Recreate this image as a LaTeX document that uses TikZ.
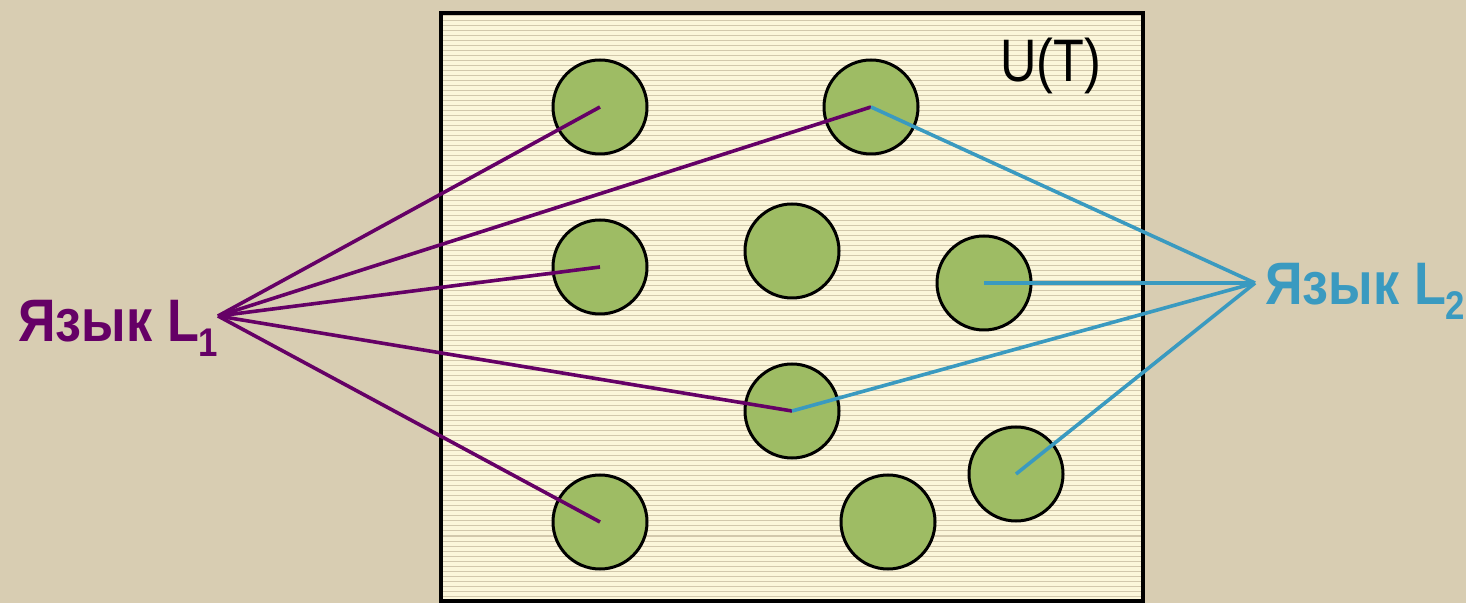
\documentclass[tikz,border=0pt]{standalone}
\usepackage{fontspec}
\newfontfamily\lab[FakeStretch=0.87]{Liberation Sans}
\newfontfamily\labu[FakeStretch=0.84]{Liberation Sans}
\definecolor{bgc}{HTML}{D8CDB2}
\definecolor{boxc}{HTML}{FBF6DA}
\definecolor{hatch}{HTML}{D2C8AC}
\definecolor{greenc}{HTML}{9EBC64}
\definecolor{purp}{HTML}{650066}
\definecolor{bluec}{HTML}{3A9AC0}
\begin{document}
\begin{tikzpicture}[x=0.5pt,y=-0.5pt,
  dot/.style={circle,draw=black,line width=1.5pt,fill=greenc,minimum size=47pt,inner sep=0pt},
  lone/.style={purp,line width=1.8pt},
  ltwo/.style={bluec,line width=1.8pt},
  lang/.style={font=\lab\bfseries\fontsize{30}{36}\selectfont,inner sep=0pt,anchor=base west}]
\useasboundingbox (0,0) rectangle (1466,603);
\fill[bgc] (0,0) rectangle (1466,603);
\fill[boxc] (441,13) rectangle (1143,601);
\foreach \yy in {16,21,...,600} \draw[hatch,line width=0.5pt] (442,\yy) -- (1142,\yy);
\draw[black,line width=2.2pt] (441,13) rectangle (1143,601);
\node[font=\labu\fontsize{30}{36}\selectfont,anchor=base west,inner sep=0pt] (ut) at (1000,82) {U(T)};
\node[dot] (c1) at (600,107) {};
\node[dot] (c2) at (871,107) {};
\node[dot] (c3) at (600,267) {};
\node[dot] (c4) at (792,251) {};
\node[dot] (c5) at (984,283) {};
\node[dot] (c6) at (792,411) {};
\node[dot] (c7) at (1016,474) {};
\node[dot] (c8) at (600,522) {};
\node[dot] (c9) at (888,522) {};
\node[lang,text=purp] (l1) at (18,342) {Язык L\raisebox{-7.5pt}{\fontsize{20}{24}\selectfont 1}};
\node[lang,text=bluec] (l2) at (1265,305) {Язык L\raisebox{-7.5pt}{\fontsize{20}{24}\selectfont 2}};
\coordinate (p1) at (218,316);
\coordinate (p2) at (1255,283);
\foreach \c in {c1,c2,c3,c6,c8} \draw[lone] (p1) -- (\c.center);
\foreach \c in {c2,c5,c6,c7} \draw[ltwo] (p2) -- (\c.center);
\end{tikzpicture}
\end{document}
